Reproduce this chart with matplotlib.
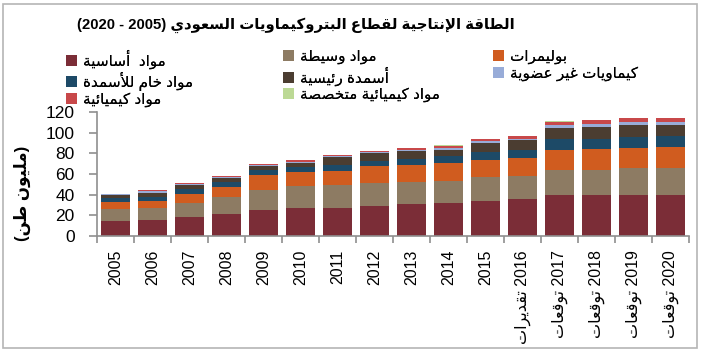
#!/usr/bin/python3
"""
Saudi petrochemical production capacity, stacked bars 2005-2020.
"""
import re
import matplotlib
matplotlib.use('Agg')
import matplotlib.pyplot as plt
from matplotlib.patches import Rectangle
import numpy as np

# ---- data (million tonnes) ----
years = ['2005', '2006', '2007', '2008', '2009', '2010', '2011', '2012',
         '2013', '2014', '2015', '2016', '2017', '2018', '2019', '2020']
year_notes = ['', '', '', '', '', '', '', '', '', '', '', 'تقديرات',
              'توقعات', 'توقعات', 'توقعات', 'توقعات']

basic = [14.6, 15.2, 18.4, 21.0, 25.2, 27.5, 27.5, 29.1,
         30.7, 31.7, 34.3, 35.6, 39.8, 39.8, 39.8, 39.8]
intermediate = [11.6, 12.3, 13.6, 17.2, 19.5, 20.7, 21.7, 22.0,
                22.0, 21.7, 22.7, 22.7, 24.3, 24.3, 25.9, 25.9]
polymers = [6.5, 6.2, 8.8, 8.8, 14.2, 13.6, 13.9, 16.2,
            16.2, 17.1, 16.8, 16.8, 19.4, 20.0, 19.4, 20.1]
fert_raw = [3.9, 4.5, 4.5, 4.8, 4.5, 4.5, 5.5, 5.5,
            5.5, 6.5, 7.4, 8.4, 10.4, 9.8, 10.7, 10.6]
fertilizers = [3.2, 3.8, 3.9, 3.9, 3.9, 4.2, 7.8, 7.5,
               7.5, 6.5, 8.8, 9.1, 10.6, 11.6, 11.3, 10.7]
inorganic = [0.6, 1.2, 1.2, 1.2, 1.4, 1.5, 1.0, 1.1,
             1.6, 1.6, 1.6, 1.6, 3.3, 3.2, 3.6, 3.6]
chemicals = [0.6, 1.1, 1.1, 1.1, 1.3, 1.5, 0.9, 1.1,
             1.6, 2.3, 2.3, 2.2, 2.9, 3.6, 3.5, 3.5]
specialty = [0.1, 0.1, 0.1, 0.1, 0.1, 0.1, 0.1, 0.1,
             0.2, 0.2, 0.2, 0.2, 0.3, 0.3, 0.3, 0.3]

series_names = ['مواد  أساسية', 'مواد وسيطة', 'بوليمرات', 'مواد خام للأسمدة',
                'أسمدة رئيسية', 'كيماويات غير عضوية', 'مواد كيميائية',
                'مواد كيميائية متخصصة']
series_colors = ['#7b2d37', '#8d7b63', '#d05c1f', '#1d4a67',
                 '#4b3d31', '#98acd8', '#c8484a', '#bcd995']

title_text = 'الطاقة الإنتاجية لقطاع البتروكيماويات السعودي (2005 - 2020)'
ylabel_text = '(مليون طن)'


# ---- minimal Arabic shaping + RTL ordering (matplotlib does neither) ----
_BASE = list(range(0x0621, 0x063B)) + list(range(0x0641, 0x064B))
_NFORMS = [1, 2, 2, 2, 2, 4, 2, 4, 2, 4, 4, 4, 4, 4, 2, 2, 2, 2, 4, 4, 4, 4,
           4, 4, 4, 4, 4, 4, 4, 4, 4, 4, 4, 2, 2, 4]
FORMS = {}
_cp = 0xFE80
for _b, _n in zip(_BASE, _NFORMS):
    FORMS[chr(_b)] = [_cp + k for k in range(_n)]
    _cp += _n
LAM_ALEF = {'\u0622': [0xFEF5, 0xFEF6], '\u0623': [0xFEF7, 0xFEF8],
            '\u0625': [0xFEF9, 0xFEFA], '\u0627': [0xFEFB, 0xFEFC]}


def shape_rtl(text):
    tokens = []
    i = 0
    while i < len(text):
        c = text[i]
        if c == '\u0644' and i + 1 < len(text) and text[i + 1] in LAM_ALEF:
            tokens.append(LAM_ALEF[text[i + 1]])
            i += 2
        else:
            tokens.append(FORMS.get(c, c))
            i += 1

    def joinable(t):
        return isinstance(t, list) and len(t) >= 2

    def dual(t):
        return isinstance(t, list) and len(t) == 4

    out = []
    for k, t in enumerate(tokens):
        if not isinstance(t, list):
            out.append(t)
            continue
        prev_j = k > 0 and dual(tokens[k - 1]) and joinable(t)
        next_j = dual(t) and k + 1 < len(tokens) and joinable(tokens[k + 1])
        if len(t) == 4:
            idx = 3 if (prev_j and next_j) else 1 if prev_j else 2 if next_j else 0
        elif len(t) == 2:
            idx = 1 if prev_j else 0
        else:
            idx = 0
        out.append(chr(t[idx]))
    vis = ''.join(reversed(out))
    # numbers stay left-to-right, brackets are mirrored
    vis = re.sub(r'\d+', lambda m: m.group(0)[::-1], vis)
    return vis.translate(str.maketrans('()', ')('))


def plot_capacity():
    plt.rcParams['font.family'] = ['Liberation Sans', 'DejaVu Sans']
    fig = plt.figure(figsize=(7.02, 3.51), dpi=100)
    ax = fig.add_axes([97 / 702, 1 - 236 / 351, 592 / 702, 124 / 351])

    x = np.arange(len(years))
    data = [basic, intermediate, polymers, fert_raw, fertilizers,
            inorganic, chemicals, specialty]
    bottom = np.zeros(len(years))
    handles = []
    for vals, name, col in zip(data, series_names, series_colors):
        bars = ax.bar(x, vals, 0.79, bottom=bottom, color=col,
                      edgecolor='none', label=shape_rtl(name))
        handles.append(bars)
        bottom += np.array(vals)

    grey = '#8f8f8f'
    ax.set_xlim(-0.5, len(years) - 0.5)
    ax.set_ylim(0, 120)
    ax.set_yticks(np.arange(0, 121, 20))
    for side in ['top', 'right']:
        ax.spines[side].set_visible(False)
    for side in ['left', 'bottom']:
        ax.spines[side].set_color(grey)
        ax.spines[side].set_linewidth(1.2)
    ax.tick_params(axis='y', length=6, color=grey, width=1.2, pad=10,
                   labelsize=12.5)

    labels = []
    for yr, note in zip(years, year_notes):
        labels.append(shape_rtl(yr + ' ' + note) if note else yr)
    ax.set_xticks(x)
    ax.set_xticklabels(labels, rotation=90, fontsize=11.5)
    ax.set_xticks(np.arange(-0.5, len(years), 1), minor=True)
    ax.tick_params(axis='x', which='major', length=0, pad=10)
    ax.tick_params(axis='x', which='minor', length=5, color=grey, width=1.2)

    fig.text(22 / 702, 1 - 193 / 351, shape_rtl(ylabel_text),
             rotation=90, ha='center', va='center', fontsize=12,
             fontweight='bold')
    fig.text(296 / 702, 1 - 25 / 351, shape_rtl(title_text),
             ha='center', va='center', fontsize=10.7, fontweight='bold')

    # legend: three columns placed like the original
    cols = [([0, 3, 6], 66), ([1, 4, 7], 283), ([2, 5], 493)]
    for idx, xpos in cols:
        leg = fig.legend([handles[i] for i in idx],
                         [shape_rtl(series_names[i]) for i in idx],
                         loc='upper left', bbox_to_anchor=(xpos / 702, 1 - 50 / 351),
                         frameon=False, borderpad=0, borderaxespad=0,
                         handlelength=0.75, handleheight=0.75,
                         handletextpad=0.35, labelspacing=0.14, fontsize=11)
        fig.add_artist(leg)

    fig.patches.append(Rectangle((3 / 702, 3 / 351), 694 / 702, 344 / 351,
                                 transform=fig.transFigure, fill=False,
                                 edgecolor='#b5b5b5', linewidth=1.2))
    fig.savefig('out.png', dpi=100)


if __name__ == "__main__":
    plot_capacity()
